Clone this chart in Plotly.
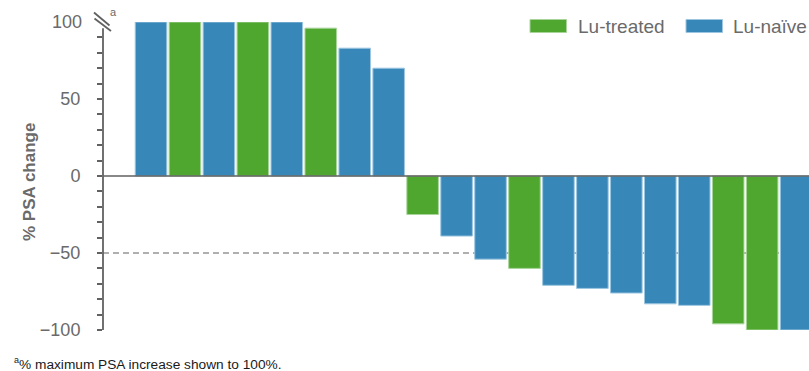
import plotly.graph_objects as go

# Best PSA response per patient, ordered as a waterfall (capped at +100%)
psa_change = [100, 100, 100, 100, 100, 96, 83, 70,
              -25, -39, -54, -60, -71, -73, -76, -83, -84, -96, -100, -100]
group = ["naive", "treated", "naive", "treated", "naive", "treated", "naive", "naive",
         "treated", "naive", "naive", "treated", "naive", "naive", "naive", "naive",
         "naive", "treated", "treated", "naive"]

y_major_ticks = [-100, -50, 0, 50]
y_minor_ticks = [v for v in range(-90, 91, 10) if v % 50 != 0]

BLUE = "#3887b9"
GREEN = "#4fa72f"
GREY_TEXT = "#6a6a6a"
GREY_LINE = "#616161"
FONT = "Liberation Sans, Arial, sans-serif"

series = {
    "treated": ("Lu-treated", GREEN, "#a8d49a"),
    "naive": ("Lu-naïve", BLUE, "#9cc6e0"),
}

fig = go.Figure()
for key, (name, color, edge) in series.items():
    idx = [i for i, g in enumerate(group) if g == key]
    fig.add_trace(go.Bar(
        x=idx,
        y=[psa_change[i] for i in idx],
        name=name,
        width=0.93,
        marker=dict(color=color, line=dict(color=edge, width=1)),
        showlegend=False,
        hoverinfo="skip",
    ))

n = len(psa_change)
fig.update_layout(
    width=809, height=371,
    margin=dict(l=103, r=0, t=22, b=41),
    paper_bgcolor="white", plot_bgcolor="white",
    barmode="overlay",
    font=dict(family=FONT, color=GREY_TEXT),
    xaxis=dict(range=[-1.414, n - 1 + 0.38], visible=False, fixedrange=True),
    yaxis=dict(
        range=[-100, 100],
        tickmode="array",
        tickvals=y_major_ticks,
        ticks="outside", ticklen=5, tickwidth=1.5, tickcolor=GREY_LINE,
        minor=dict(tickmode="array", tickvals=y_minor_ticks, ticks="outside",
                   ticklen=5, tickwidth=1.5, tickcolor=GREY_LINE, showgrid=False),
        ticklabelstandoff=13,
        tickfont=dict(size=18, color=GREY_TEXT, family=FONT),
        showgrid=False, zeroline=False, showline=False,
    ),
)

# -50% response threshold (behind the bars)
fig.add_shape(type="line", xref="paper", yref="y", x0=0, x1=1, y0=-50, y1=-50,
              line=dict(color=GREY_LINE, width=1.2, dash="6px,4px"), layer="below")
# Zero baseline
fig.add_shape(type="line", xref="paper", yref="y", x0=0, x1=1, y0=0, y1=0,
              line=dict(color=GREY_LINE, width=1.6), layer="above")
# Y axis line, interrupted at the top by the break mark
fig.add_shape(type="line", xref="paper", yref="y", x0=0, x1=0, y0=-100, y1=96,
              line=dict(color=GREY_LINE, width=1.8))

# Axis break "//" drawn in pixel-derived paper coordinates
def px_x(p):
    return (p - 103) / 706

def px_y(p):
    return (330 - p) / 308

for (x0, y0, x1, y1) in [(94, 12.5, 109.5, 25.5), (94.5, 18.5, 111, 31)]:
    fig.add_shape(type="line", xref="paper", yref="paper",
                  x0=px_x(x0), y0=px_y(y0), x1=px_x(x1), y1=px_y(y1),
                  line=dict(color=GREY_LINE, width=1.8))

fig.add_annotation(xref="paper", yref="paper", x=px_x(108), y=px_y(12),
                   text="a", showarrow=False, xanchor="left", yanchor="middle",
                   font=dict(size=11, color=GREY_TEXT, family=FONT))

# Top tick label (no tick mark because of the break)
fig.add_annotation(xref="paper", yref="y", x=0, y=100, xshift=-19,
                   text="100", showarrow=False, xanchor="right", yanchor="middle",
                   font=dict(size=18, color=GREY_TEXT, family=FONT))

# Y axis title
fig.add_annotation(xref="paper", yref="paper", x=px_x(30), y=px_y(182),
                   text="<b>% PSA change</b>", textangle=-90, showarrow=False,
                   xanchor="center", yanchor="middle",
                   font=dict(size=17, color=GREY_TEXT, family=FONT))

# Legend
for (bx0, bx1, tx, key) in [(530, 566.5, 576, "treated"), (686, 722.5, 731, "naive")]:
    name, color, edge = series[key]
    fig.add_shape(type="rect", xref="paper", yref="paper",
                  x0=px_x(bx0), x1=px_x(bx1), y0=px_y(32.5), y1=px_y(19.5),
                  fillcolor=color, line=dict(color=edge, width=1))
    fig.add_annotation(xref="paper", yref="paper", x=px_x(tx), y=px_y(26),
                       text=name, showarrow=False, xanchor="left", yanchor="middle",
                       font=dict(size=19, color=GREY_TEXT, family=FONT))

# Footnote
fig.add_annotation(xref="paper", yref="paper", x=px_x(12), y=px_y(363),
                   text="<sup><span style='font-size:9px'>a</span></sup>"
                        "% maximum PSA increase shown to 100%.",
                   showarrow=False, xanchor="left", yanchor="middle",
                   font=dict(size=13.7, color="#1a1a1a", family=FONT))

fig.write_html("out.html")
